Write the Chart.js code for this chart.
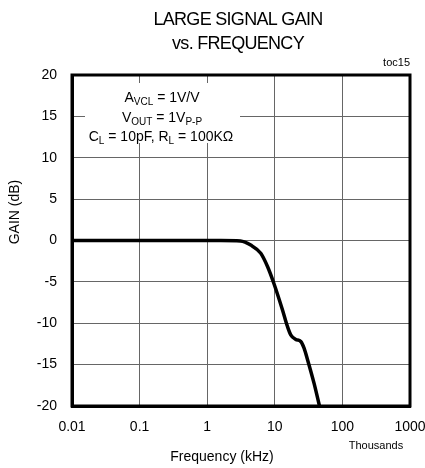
<!DOCTYPE html>
<html>
<head>
<meta charset="utf-8">
<script src="https://cdn.jsdelivr.net/npm/chart.js@4/dist/chart.umd.min.js"></script>
<style>
  html, body { margin: 0; padding: 0; background: #fff; }
  canvas { display: block; }
</style>
</head>
<body>
<canvas id="c" width="425" height="468"></canvas>
<script>
// ---- data ----
const freqKHz = [0.01, 0.1, 1, 1.6, 3.1, 4.4, 6.2, 7.8, 9.7, 13.0, 15.4, 17.2, 20.4, 24.2, 27.1, 30.5, 38.2, 45.8];
const gainDB  = [0,    0,   0, 0,   -0.05, -0.55, -1.55, -3.15, -5.2, -8.4, -10.4, -11.4, -11.95, -12.2, -13.0, -14.4, -17.3, -20.0];
const xTickValues = [0.01, 0.1, 1, 10, 100, 1000];
const xTickLabels = ['0.01', '0.1', '1', '10', '100', '1000'];
const yTickValues = [-20, -15, -10, -5, 0, 5, 10, 15, 20];
const yTickLabels = ['-20', '-15', '-10', '-5', '0', '5', '10', '15', '20'];
const titleLines = ['LARGE SIGNAL GAIN', 'vs. FREQUENCY'];
const xTitle = 'Frequency (kHz)';
const yTitle = 'GAIN (dB)';
const xUnitNote = 'Thousands';
const figTag = 'toc15';

const FONT = '"Liberation Sans", Arial, Helvetica, sans-serif';

const points = freqKHz.map((f, i) => ({ x: f, y: gainDB[i] }));

function drawSub(ctx, parts, cx, baseline) {
  const main = '14px ' + FONT, sub = '10px ' + FONT;
  let w = 0;
  parts.forEach(p => { ctx.font = p[1] ? sub : main; w += ctx.measureText(p[0]).width; });
  let x = cx - w / 2;
  ctx.textAlign = 'left';
  ctx.textBaseline = 'alphabetic';
  parts.forEach(p => {
    ctx.font = p[1] ? sub : main;
    ctx.fillText(p[0], x, baseline + (p[1] ? 3 : 0));
    x += ctx.measureText(p[0]).width;
  });
}

const decor = {
  id: 'decor',
  beforeDatasetsDraw(chart) {
    const ctx = chart.ctx;
    ctx.save();
    ctx.fillStyle = '#fff';
    ctx.fillRect(85, 83, 155, 60);
    ctx.fillStyle = '#000';
    drawSub(ctx, [['A', false], ['VCL', true], [' = 1V/V', false]], 162, 102);
    drawSub(ctx, [['V', false], ['OUT', true], [' = 1V', false], ['P-P', true]], 162, 122);
    drawSub(ctx, [['C', false], ['L', true], [' = 10pF, R', false], ['L', true], [' = 100K\u03A9', false]], 161, 141);
    ctx.restore();
  },
  afterDraw(chart) {
    const ctx = chart.ctx;
    const a = chart.chartArea;
    ctx.save();
    ctx.strokeStyle = '#000';
    ctx.lineWidth = 3;
    ctx.strokeRect(a.left, a.top, a.right - a.left, a.bottom - a.top);
    ctx.fillStyle = '#000';
    ctx.font = '18px ' + FONT;
    try { ctx.letterSpacing = '-0.7px'; } catch (e) {}
    ctx.textAlign = 'center';
    ctx.textBaseline = 'middle';
    ctx.fillText(titleLines[0], 238, 20);
    ctx.fillText(titleLines[1], 238, 44);
    try { ctx.letterSpacing = '0px'; } catch (e) {}
    ctx.font = '11px ' + FONT;
    ctx.textAlign = 'right';
    ctx.fillText(figTag, 410, 63);
    ctx.font = '14px ' + FONT;
    ctx.textAlign = 'center';
    ctx.fillText(xTitle, 222, 457);
    ctx.font = '11px ' + FONT;
    ctx.fillText(xUnitNote, 376, 446);
    ctx.font = '14px ' + FONT;
    ctx.translate(15, 212);
    ctx.rotate(-Math.PI / 2);
    ctx.fillText(yTitle, 0, 0);
    ctx.restore();
  }
};

new Chart(document.getElementById('c'), {
  type: 'scatter',
  data: {
    datasets: [{
      data: points,
      showLine: true,
      borderColor: '#000',
      borderWidth: 3.5,
      pointRadius: 0,
      cubicInterpolationMode: 'monotone',
      fill: false
    }]
  },
  options: {
    responsive: false,
    animation: false,
    devicePixelRatio: 1,
    layout: { padding: { top: 75, right: 15, left: 0, bottom: 0 } },
    plugins: { legend: { display: false }, title: { display: false }, tooltip: { enabled: false } },
    scales: {
      x: {
        type: 'logarithmic',
        min: 0.01,
        max: 1000,
        afterBuildTicks(scale) { scale.ticks = xTickValues.map(v => ({ value: v })); },
        afterFit(scale) { scale.height = 62; scale.paddingLeft = 0; scale.paddingRight = 0; },
        ticks: {
          autoSkip: false,
          maxRotation: 0,
          padding: 13,
          color: '#000',
          font: { family: FONT, size: 14 },
          callback(v) { const i = xTickValues.indexOf(v); return i >= 0 ? xTickLabels[i] : ''; }
        },
        grid: { color: '#666', lineWidth: 1, drawTicks: false },
        border: { display: true, color: '#000', width: 3 }
      },
      y: {
        min: -20,
        max: 20,
        afterBuildTicks(scale) { scale.ticks = yTickValues.map(v => ({ value: v })); },
        afterFit(scale) { scale.width = 72; scale.paddingTop = 0; scale.paddingBottom = 0; },
        ticks: {
          padding: 15,
          color: '#000',
          font: { family: FONT, size: 14 },
          callback(v) { const i = yTickValues.indexOf(v); return i >= 0 ? yTickLabels[i] : ''; }
        },
        grid: { color: '#666', lineWidth: 1, drawTicks: false },
        border: { display: true, color: '#000', width: 3 }
      }
    }
  },
  plugins: [decor]
});
</script>
</body>
</html>
